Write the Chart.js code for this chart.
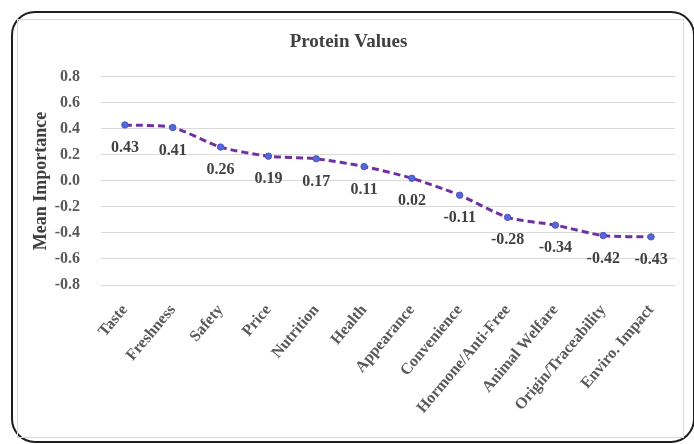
<!DOCTYPE html>
<html>
<head>
<meta charset="utf-8">
<script src="https://cdn.jsdelivr.net/npm/chart.js@4/dist/chart.umd.min.js"></script>
<style>
  html, body { margin: 0; padding: 0; background: #fff; }
  #wrap { position: relative; width: 694px; height: 444px; overflow: hidden; }
  #frame { position: absolute; left: 11px; top: 11px; width: 684px; height: 432px;
           border: 2.5px solid #1e1e1e; border-radius: 24px; box-sizing: border-box; }
  #inner { position: absolute; left: 17px; top: 19px; width: 667px; height: 419px;
           border: 1px solid #d9d9d9; box-sizing: border-box; }
  canvas { position: absolute; left: 0; top: 0; }
</style>
</head>
<body>
<div id="wrap">
  <div id="frame"></div>
  <div id="inner"></div>
  <canvas id="myChart" width="694" height="444"></canvas>
</div>
<script>
// chart values
const categories = ['Taste', 'Freshness', 'Safety', 'Price', 'Nutrition', 'Health',
  'Appearance', 'Convenience', 'Hormone/Anti-Free', 'Animal Welfare',
  'Origin/Traceability', 'Enviro. Impact'];
const meanImportance = [0.43, 0.41, 0.26, 0.19, 0.17, 0.11, 0.02, -0.11, -0.28, -0.34, -0.42, -0.43];
const yTicks = [-0.8, -0.6, -0.4, -0.2, 0.0, 0.2, 0.4, 0.6, 0.8];

const serif = '"Liberation Serif", "Times New Roman", serif';

// labels under each point
const valueLabels = {
    id: 'valueLabels',
    afterDatasetsDraw(chart) {
        const ctx = chart.ctx;
        const meta = chart.getDatasetMeta(0);
        ctx.save();
        ctx.font = 'bold 16px ' + serif;
        ctx.fillStyle = '#404040';
        ctx.textAlign = 'center';
        ctx.textBaseline = 'middle';
        meta.data.forEach(function(pt, i){
            ctx.fillText(meanImportance[i].toFixed(2), pt.x, pt.y + 23);
        });
        ctx.restore();
    }
};

const ctx = document.getElementById('myChart').getContext('2d');
const myChart = new Chart(ctx, {
    type: 'line',
    data: {
        labels: categories,
        datasets: [{
            data: meanImportance,
            borderColor: '#7030A0',
            borderWidth: 3,
            borderDash: [7, 4],
            tension: 0.25,
            pointRadius: 3.2,
            pointBackgroundColor: '#4F6BD8',
            pointBorderColor: '#5a4fc8',
            pointBorderWidth: 1,
            fill: false
        }]
    },
    options: {
        responsive: false,
        animation: false,
        layout: { padding: { left: 22, right: 19, top: 0, bottom: 10 } },
        plugins: {
            legend: { display: false },
            tooltip: { enabled: false },
            title: {
                display: true,
                text: 'Protein Values',
                color: '#404040',
                font: { family: serif, size: 19, weight: 'bold' },
                padding: { top: 31, bottom: 23 }
            }
        },
        scales: {
            x: {
                offset: true,
                grid: { display: false },
                border: { display: false },
                ticks: {
                    autoSkip: false,
                    minRotation: 50,
                    maxRotation: 50,
                    padding: 8,
                    color: '#595959',
                    font: { family: serif, size: 16, weight: 'bold' }
                },
                afterFit: function(scale){ scale.height = 149; }
            },
            y: {
                min: -0.8,
                max: 0.8,
                afterBuildTicks: function(scale){
                    scale.ticks = yTicks.map(function(v){ return { value: v }; });
                },
                grid: { color: '#d9d9d9', drawTicks: false },
                border: { display: false },
                ticks: {
                    padding: 21,
                    color: '#595959',
                    font: { family: serif, size: 16, weight: 'bold' },
                    callback: function(v){ return v.toFixed(1); }
                },
                title: {
                    display: true,
                    text: 'Mean Importance',
                    color: '#404040',
                    font: { family: serif, size: 18, weight: 'bold' },
                    padding: { top: 9, bottom: 0 }
                },
                afterFit: function(scale){ scale.width = 79; }
            }
        }
    },
    plugins: [valueLabels]
});
</script>
</body>
</html>
